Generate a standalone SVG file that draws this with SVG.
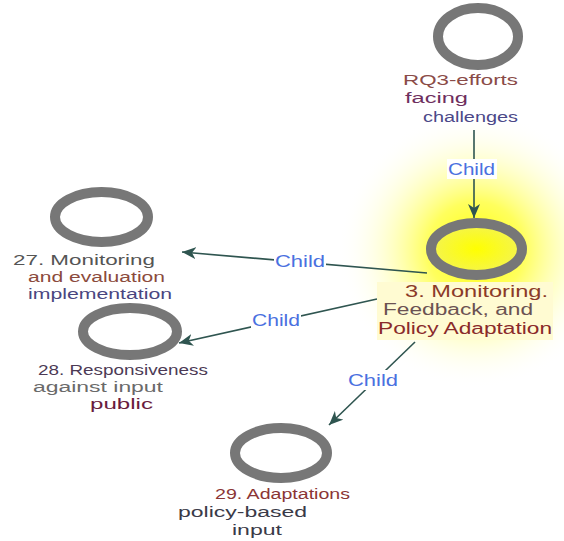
<svg xmlns="http://www.w3.org/2000/svg" width="564" height="541" viewBox="0 0 564 541">
  <defs>
    <radialGradient id="glow" cx="476" cy="250" r="138" gradientUnits="userSpaceOnUse">
      <stop offset="0" stop-color="#ffff00" stop-opacity="1"/>
      <stop offset="0.35" stop-color="#ffff30" stop-opacity="0.78"/>
      <stop offset="0.7" stop-color="#ffffa0" stop-opacity="0.35"/>
      <stop offset="1" stop-color="#ffffff" stop-opacity="0"/>
    </radialGradient>
    <radialGradient id="coreFill" cx="0.5" cy="0.5" r="0.5">
      <stop offset="0" stop-color="#ffff00"/>
      <stop offset="1" stop-color="#f4f450"/>
    </radialGradient>
    <marker id="arrow" viewBox="0 0 14 12" markerWidth="14" markerHeight="12" refX="14" refY="6" orient="auto" markerUnits="userSpaceOnUse">
      <path d="M0,0 L14,6 L0,12 L4,6 Z" fill="#2f5550"/>
    </marker>
    <style>
      .ring { fill: #ffffff; stroke: #777777; stroke-width: 10; }
      .edge { fill: none; stroke: #2f5550; stroke-width: 1.6; marker-end: url(#arrow); }
      .lbl { font-family: "Liberation Sans", Arial, sans-serif; font-size: 15.5px; }
      .big { font-size: 16px; }
      .child { font-family: "Liberation Sans", Arial, sans-serif; font-size: 16px; fill: #4a70e0; }
      .tag { fill: #ffffff; }
    </style>
  </defs>

  <rect width="564" height="541" fill="#ffffff"/>
  <!-- highlight halo around the focused node -->
  <rect x="330" y="105" width="234" height="290" fill="url(#glow)"/>

  <!-- connectors -->
  <g id="connectors">
    <path class="edge" d="M474,130 L474,218"/>
    <path class="edge" d="M427,273 L182,252"/>
    <path class="edge" d="M377,299 L179,343"/>
    <path class="edge" d="M415,342 L329,425"/>
    <rect class="tag" x="447" y="159" width="50" height="20"/>
    <text class="child" x="448" y="175" textLength="47" lengthAdjust="spacingAndGlyphs">Child</text>
    <rect class="tag" x="274" y="251" width="52" height="20"/>
    <text class="child" x="275" y="267" textLength="50" lengthAdjust="spacingAndGlyphs">Child</text>
    <rect class="tag" x="251" y="310" width="50" height="20"/>
    <text class="child" x="252" y="326" textLength="48" lengthAdjust="spacingAndGlyphs">Child</text>
    <rect class="tag" x="347" y="370" width="52" height="20"/>
    <text class="child" x="348" y="386" textLength="50" lengthAdjust="spacingAndGlyphs">Child</text>
  </g>

  <!-- RQ3 root node -->
  <g id="node-rq3">
    <ellipse class="ring" cx="478" cy="36.5" rx="40" ry="28.5"/>
    <text class="lbl" x="403" y="85" textLength="115" lengthAdjust="spacingAndGlyphs" fill="#8a4b48">RQ3-efforts</text>
    <text class="lbl" x="405" y="103" textLength="63" lengthAdjust="spacingAndGlyphs" fill="#6e2f5e">facing</text>
    <text class="lbl" x="423" y="122" textLength="95" lengthAdjust="spacingAndGlyphs" fill="#4b4888">challenges</text>
  </g>

  <!-- focused node 3 -->
  <g id="node-3">
    <ellipse cx="476.5" cy="249" rx="45.5" ry="26" fill="url(#coreFill)" stroke="#777777" stroke-width="10"/>
    <rect x="377" y="282" width="176" height="58" fill="#fffbd2"/>
    <text class="lbl big" x="405" y="297" textLength="143" lengthAdjust="spacingAndGlyphs" fill="#8b3a28">3. Monitoring.</text>
    <text class="lbl big" x="383" y="315" textLength="150" lengthAdjust="spacingAndGlyphs" fill="#6b5252">Feedback, and</text>
    <text class="lbl big" x="378" y="333.5" textLength="174" lengthAdjust="spacingAndGlyphs" fill="#8a2a2a">Policy Adaptation</text>
  </g>

  <!-- node 27 -->
  <g id="node-27">
    <ellipse class="ring" cx="101.5" cy="217" rx="46.5" ry="25"/>
    <text class="lbl" x="13" y="265" textLength="142" lengthAdjust="spacingAndGlyphs" fill="#555555">27. Monitoring</text>
    <text class="lbl" x="28" y="282" textLength="137" lengthAdjust="spacingAndGlyphs" fill="#8b4a3c">and evaluation</text>
    <text class="lbl" x="28" y="298.5" textLength="144" lengthAdjust="spacingAndGlyphs" fill="#4a4680">implementation</text>
  </g>

  <!-- node 28 -->
  <g id="node-28">
    <ellipse class="ring" cx="130" cy="331.5" rx="47" ry="23.5"/>
    <text class="lbl" x="38" y="375" textLength="170" lengthAdjust="spacingAndGlyphs" fill="#4c3a55">28. Responsiveness</text>
    <text class="lbl" x="33" y="392" textLength="130" lengthAdjust="spacingAndGlyphs" fill="#6a6a6a">against input</text>
    <text class="lbl" x="90" y="409" textLength="63" lengthAdjust="spacingAndGlyphs" fill="#6a1c3e" style="font-size:15.5px">public</text>
  </g>

  <!-- node 29 -->
  <g id="node-29">
    <ellipse class="ring" cx="281" cy="453" rx="46" ry="25"/>
    <text class="lbl" x="215" y="499" textLength="135" lengthAdjust="spacingAndGlyphs" fill="#8b3535">29. Adaptations</text>
    <text class="lbl" x="178" y="517" textLength="129" lengthAdjust="spacingAndGlyphs" fill="#3a3a48">policy-based</text>
    <text class="lbl" x="232" y="535" textLength="50" lengthAdjust="spacingAndGlyphs" fill="#3a3a48">input</text>
  </g>
</svg>
